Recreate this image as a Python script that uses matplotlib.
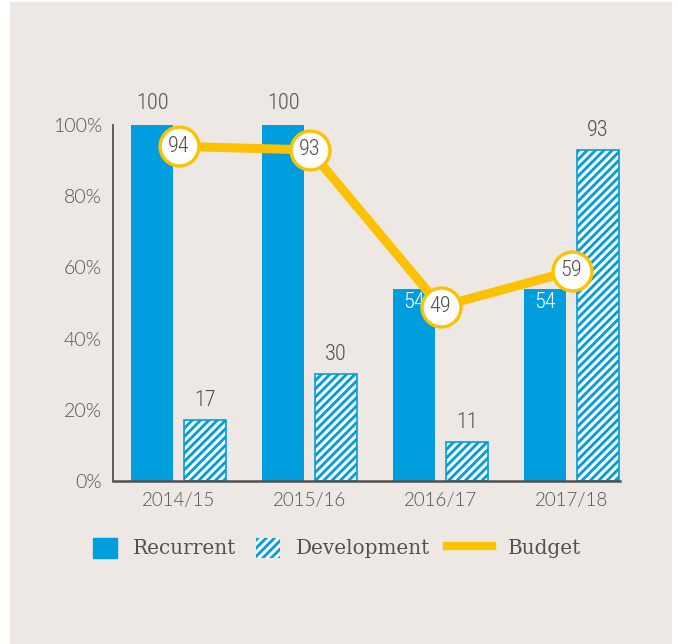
import numpy as np
import matplotlib.pyplot as plt
from matplotlib.patches import Patch, Rectangle
from matplotlib.lines import Line2D

years = ["2014/15", "2015/16", "2016/17", "2017/18"]
recurrent = [100, 100, 54, 54]
development = [17, 30, 11, 93]
budget = [94, 93, 49, 59]
yticks = [0, 20, 40, 60, 80, 100]
legend_labels = ["Recurrent", "Development", "Budget"]

blue = "#009EDF"
yellow = "#FCC200"
grey = "#55504D"
bg = "#EDE8E4"

narrow = ["Roboto Condensed", "Open Sans Condensed", "Liberation Sans Narrow", "DejaVu Sans"]
sans = ["Lato", "DejaVu Sans"]
serif = "DejaVu Serif"
num_style = dict(family=narrow, fontstretch="condensed", fontsize=16, weight=300)

plt.rcParams["hatch.linewidth"] = 2.2

fig = plt.figure(figsize=(6.78, 6.44), dpi=100, facecolor="white")
fig.patches.append(Rectangle((10 / 678, 0), 662 / 678, 642 / 644,
                             transform=fig.transFigure, facecolor=bg,
                             edgecolor="none", zorder=-10))
ax = fig.add_axes([113 / 678, 1 - 481 / 644, 507 / 678, 356 / 644])
ax.set_facecolor("none")

x = np.arange(len(years))
w = 0.32
off = 0.2

ax.bar(x - off, recurrent, width=w, color=blue, zorder=2)
ax.bar(x + off, development, width=w, color=blue, edgecolor="white",
       hatch="////", linewidth=0, zorder=2)
ax.bar(x + off, development, width=w, fill=False, edgecolor=blue,
       linewidth=1.2, zorder=2)

ax.plot(x, budget, color=yellow, linewidth=6.5, zorder=3, solid_capstyle="butt")
ax.plot(x, budget, linestyle="none", marker="o", markersize=28,
        markerfacecolor="white", markeredgecolor=yellow, markeredgewidth=2.4,
        zorder=4)

# recurrent labels go inside the bar when the budget line runs just above it
line_at_bar = np.interp(x - off, x, budget, left=-np.inf)
for i in range(len(years)):
    ax.text(x[i], budget[i], str(budget[i]), ha="center", va="center",
            color=grey, zorder=5, **num_style)
    if recurrent[i] > line_at_bar[i]:
        ax.text(x[i] - off, recurrent[i] + 6, str(recurrent[i]), ha="center",
                va="center", color=grey, **num_style)
    else:
        ax.text(x[i] - off, recurrent[i] - 4, str(recurrent[i]), ha="center",
                va="center", color="white", **num_style)
    ax.text(x[i] + off, development[i] + 5.5, str(development[i]), ha="center",
            va="center", color=grey, **num_style)

ax.set_xlim(-0.5, 3.37)
ax.set_ylim(0, 100)
ax.set_yticks(yticks)
ax.set_yticklabels([f"{t}%" for t in yticks], fontsize=14, color=grey,
                   family=sans, weight=300)
ax.set_xticks(x)
ax.set_xticklabels(years, fontsize=13.5, color=grey, family=sans, weight=300)
ax.tick_params(length=0, pad=8)
for s in ["top", "right"]:
    ax.spines[s].set_visible(False)
ax.spines["left"].set_color(grey)
ax.spines["left"].set_linewidth(1.3)
ax.spines["bottom"].set_color(grey)
ax.spines["bottom"].set_linewidth(1.8)

handles = [
    Patch(facecolor=blue, edgecolor=blue),
    Patch(facecolor=blue, edgecolor="white", hatch="////", linewidth=0),
    Line2D([], [], color=yellow, linewidth=6),
]
starts = [93, 256, 447]
lengths = [1.2, 1.2, 2.25]
for h, lab, x0, hl in zip(handles, legend_labels, starts, lengths):
    leg = fig.legend([h], [lab], loc="center left",
                     bbox_to_anchor=(x0 / 678, 1 - 548 / 644),
                     frameon=False, borderpad=0, borderaxespad=0,
                     handlelength=hl, handleheight=1.2, handletextpad=0.8,
                     prop={"family": serif, "size": 14.4})
    for t in leg.get_texts():
        t.set_color(grey)

plt.savefig("out.png", dpi=100, facecolor=fig.get_facecolor())
